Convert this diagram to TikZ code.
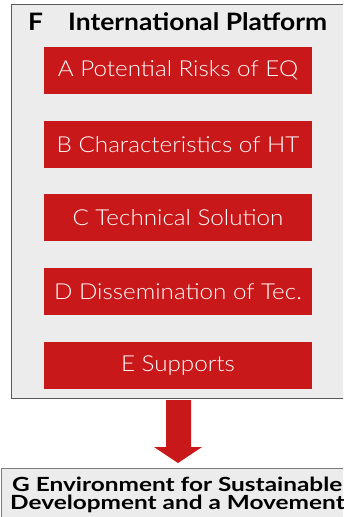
\documentclass[tikz,border=0pt]{standalone}
\usepackage{fontspec}
\setmainfont{Lato}
\newfontfamily\lightfont[FakeStretch=1.1]{Lato Light}
\newfontfamily\titlefont[FakeStretch=1.1]{Lato Bold}
\newfontfamily\gfont[FakeStretch=1.25]{Lato Bold}
\definecolor{boxred}{RGB}{200,24,26}
\definecolor{panel}{RGB}{236,236,236}
\definecolor{edge}{RGB}{90,90,90}
\begin{document}
\begin{tikzpicture}[x=1pt,y=-1pt,
  redbox/.style={fill=boxred,minimum width=268pt,minimum height=47pt,inner sep=0pt,
    text=white,font=\lightfont\fontsize{22}{24}\selectfont},
  ]
\useasboundingbox (0,0) rectangle (343,517);
\begin{scope}
\clip (0,0) rectangle (343,517);
\node[draw=edge,line width=0.8pt,fill=panel,minimum width=340pt,minimum height=394pt,anchor=north west,inner sep=0pt] (F) at (11,4) {};
\node[draw=edge!80,line width=0.8pt,fill=panel,minimum width=350pt,minimum height=55pt,anchor=north west,inner sep=0pt] (G) at (1,468) {};
\node[anchor=base west,inner sep=0pt,font=\gfont\fontsize{19.5}{19}\selectfont] (G1) at (12,491) {G Environment for Sustainable};
\node[anchor=base west,inner sep=0pt,font=\gfont\fontsize{19.5}{19}\selectfont] (G2) at (10,509.5) {Development and a Movement};
\end{scope}
\node[anchor=base west,inner sep=0pt,font=\titlefont\fontsize{24}{28}\selectfont] (Fl) at (28,30) {F};
\node[anchor=base west,font=\titlefont\fontsize{24}{28}\selectfont,inner sep=0pt] (Ft) at (68,30) {International Platform};
\node[redbox] (A) at (178,70.5) {A Potential Risks of EQ};
\node[redbox] (B) at (178,144.5) {B Characteristics of HT};
\node[redbox] (C) at (178,217.5) {C Technical Solution};
\node[redbox] (D) at (178,291.5) {D Dissemination of Tec.};
\node[redbox] (E) at (178,365.5) {E Supports};
\fill[boxred] (166,400) -- (191,400) -- (191,447) -- (202,447) -- (178,463) -- (154,447) -- (166,447) -- cycle;
\end{tikzpicture}
\end{document}
